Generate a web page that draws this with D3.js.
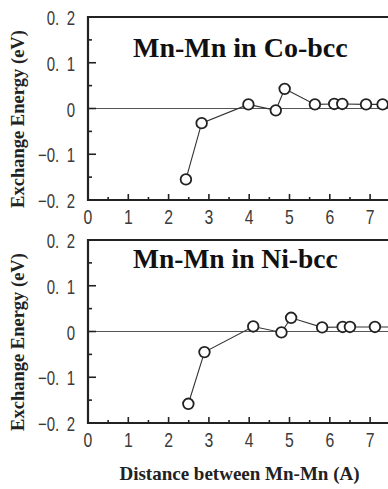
<!DOCTYPE html>
<html>
<head>
<meta charset="utf-8">
<script src="https://cdn.jsdelivr.net/npm/d3@7"></script>
<style>
  body { margin: 0; background: #fff; }
  svg { display: block; }
</style>
</head>
<body>
<div id="chart"></div>
<script>
// Mn-Mn exchange energy vs distance
const coDist   = [2.43, 2.82, 3.98, 4.66, 4.88, 5.63, 6.11, 6.31, 6.90, 7.31];
const coEnergy = [-0.155, -0.032, 0.009, -0.004, 0.043, 0.009, 0.010, 0.010, 0.009, 0.009];
const niDist   = [2.49, 2.89, 4.10, 4.80, 5.04, 5.81, 6.32, 6.50, 7.12, 7.70];
const niEnergy = [-0.158, -0.045, 0.011, -0.002, 0.030, 0.009, 0.010, 0.010, 0.010, 0.010];
const xTicks = [0, 1, 2, 3, 4, 5, 6, 7];
const yTicks = [0.2, 0.1, 0, -0.1, -0.2];
const yTickLabels = ['0.\u20022', '0.\u20021', '0', '\u22120.\u20021', '\u22120.\u20022'];

const width = 388;
const height = 489;
const svg = d3.select('#chart').append('svg')
  .attr('width', width)
  .attr('height', height);

const x = d3.scaleLinear().domain([0, 8]).range([88, 410.4]);

function drawPanel(dist, energy, top, title, titleY, titleSize) {
  const y = d3.scaleLinear().domain([-0.2, 0.2]).range([top + 183, top]);
  const g = svg.append('g');
  const pts = dist.map(function(d, i) { return {x: d, y: energy[i]}; });

  // zero line
  g.append('line')
    .attr('x1', x(0)).attr('x2', width)
    .attr('y1', y(0)).attr('y2', y(0))
    .attr('stroke', '#555').attr('stroke-width', 1);

  // x ticks (inside, on bottom)
  const xMinor = d3.range(0.5, 8, 1);
  g.selectAll('.xmaj').data(xTicks.slice(1)).enter().append('line')
    .attr('x1', function(d) { return x(d); }).attr('x2', function(d) { return x(d); })
    .attr('y1', y(-0.2)).attr('y2', y(-0.2) - 6)
    .attr('stroke', '#222').attr('stroke-width', 1.6);
  g.selectAll('.xmin').data(xMinor).enter().append('line')
    .attr('x1', function(d) { return x(d); }).attr('x2', function(d) { return x(d); })
    .attr('y1', y(-0.2)).attr('y2', y(-0.2) - 3)
    .attr('stroke', '#222').attr('stroke-width', 1.6);

  // y ticks (inside, on left)
  g.selectAll('.ymaj').data([-0.1, 0, 0.1]).enter().append('line')
    .attr('x1', x(0)).attr('x2', x(0) + 8)
    .attr('y1', function(d) { return y(d); }).attr('y2', function(d) { return y(d); })
    .attr('stroke', '#222').attr('stroke-width', 1.6);
  g.selectAll('.ymin').data([-0.15, -0.05, 0.05, 0.15]).enter().append('line')
    .attr('x1', x(0)).attr('x2', x(0) + 4)
    .attr('y1', function(d) { return y(d); }).attr('y2', function(d) { return y(d); })
    .attr('stroke', '#222').attr('stroke-width', 1.6);

  // frame: left, top, bottom
  g.append('path')
    .attr('d', 'M' + width + ',' + y(0.2) + 'H' + x(0) + 'V' + y(-0.2) + 'H' + width)
    .attr('fill', 'none').attr('stroke', '#222').attr('stroke-width', 2.2);

  // tick labels
  g.selectAll('.xl').data(xTicks).enter().append('text')
    .attr('transform', function(d) { return 'translate(' + x(d) + ',' + (y(-0.2) + 24) + ') scale(0.75,1)'; })
    .attr('text-anchor', 'middle')
    .attr('font-family', 'Liberation Sans, Arial, sans-serif')
    .attr('font-size', 21).attr('fill', '#3a3a3a')
    .text(function(d) { return d; });
  g.selectAll('.yl').data(yTicks).enter().append('text')
    .attr('transform', function(d) { return 'translate(' + 75 + ',' + (y(d) + 8) + ') scale(0.75,1)'; })
    .attr('text-anchor', 'end')
    .attr('font-family', 'Liberation Sans, Arial, sans-serif')
    .attr('font-size', 20).attr('fill', '#3a3a3a')
    .text(function(d, i) { return yTickLabels[i]; });

  // y axis title
  g.append('text')
    .attr('transform', 'translate(24,' + (top + 102) + ') rotate(-90)')
    .attr('text-anchor', 'middle')
    .attr('font-family', 'Liberation Serif, Times New Roman, serif')
    .attr('font-weight', 'bold').attr('font-size', 18.5).attr('fill', '#222')
    .text('Exchange Energy (eV)');

  // panel title
  g.append('text')
    .attr('x', 133).attr('y', titleY)
    .attr('font-family', 'Liberation Serif, Times New Roman, serif')
    .attr('font-weight', 'bold').attr('font-size', titleSize).attr('fill', '#111')
    .text(title);

  // data line + circles
  const line = d3.line().x(function(d) { return x(d.x); }).y(function(d) { return y(d.y); });
  g.append('path').datum(pts)
    .attr('d', line)
    .attr('fill', 'none').attr('stroke', '#333').attr('stroke-width', 1.1);
  g.selectAll('circle').data(pts).enter().append('circle')
    .attr('cx', function(d) { return x(d.x); })
    .attr('cy', function(d) { return y(d.y); })
    .attr('r', 5.3)
    .attr('fill', '#fff').attr('stroke', '#222').attr('stroke-width', 1.8);
}

drawPanel(coDist, coEnergy, 17, 'Mn-Mn in Co-bcc', 57, 28);
drawPanel(niDist, niEnergy, 240, 'Mn-Mn in Ni-bcc', 268, 27.5);

svg.append('text')
  .attr('x', 239.5).attr('y', 480)
  .attr('text-anchor', 'middle')
  .attr('font-family', 'Liberation Serif, Times New Roman, serif')
  .attr('font-weight', 'bold').attr('font-size', 19).attr('fill', '#222')
  .text('Distance between Mn-Mn (A)');
</script>
</body>
</html>
